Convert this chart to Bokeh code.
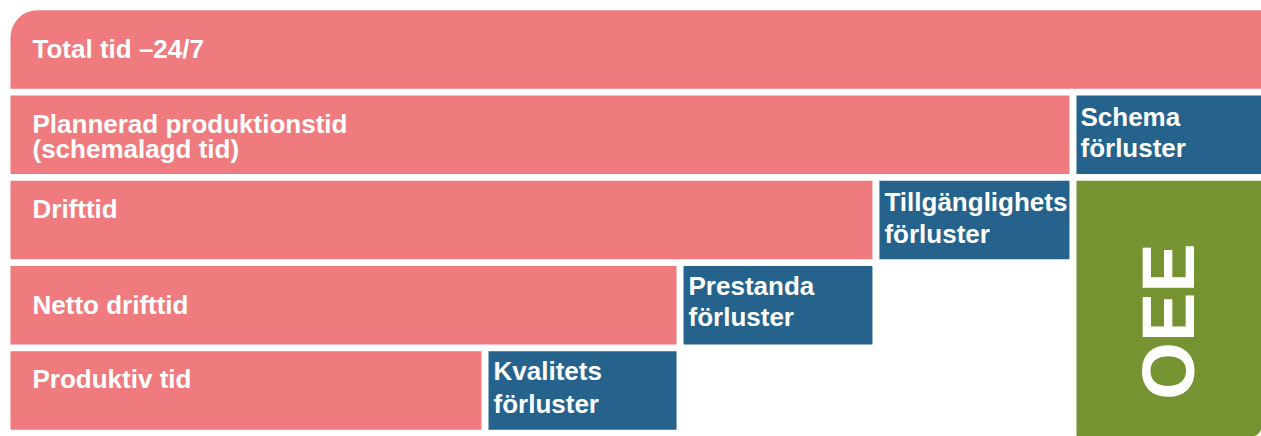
import math
from bokeh.plotting import figure
from bokeh.models import Range1d, ColumnDataSource
from bokeh.core.properties import value
from bokeh.embed import file_html
from bokeh.resources import INLINE

# ---- data (share of total time, %) ----
row_labels = [["Total tid –24/7"],
              ["Plannerad produktionstid", "(schemalagd tid)"],
              ["Drifttid"],
              ["Netto drifttid"],
              ["Produktiv tid"]]
row_values = [100.0, 84.65, 68.9, 53.24, 37.65]
loss_labels = [["Schema", "förluster"],
               ["Tillgänglighets", "förluster"],
               ["Prestanda", "förluster"],
               ["Kvalitets", "förluster"]]
oee_label = "OEE"

PINK = "#EF7B7E"
BLUE = "#25638C"
GREEN = "#769331"
FONT = "Liberation Sans"

W, H = 1261, 436
PX_X = 12.51      # px per % unit
PX_Y = 85.25      # px per row
GAP = 7 / PX_X
BAR_H = 0.92
Y_TOP = -49 / PX_Y
Y_BOT = Y_TOP + H / PX_Y
TXT_SHIFT = -8    # px

p = figure(width=W, height=H, output_backend="svg", toolbar_location=None,
           x_range=Range1d(-10 / PX_X, (W - 10) / PX_X),
           y_range=Range1d(Y_BOT, Y_TOP),
           min_border=0, outline_line_color=None)
p.axis.visible = False
p.grid.visible = False
p.background_fill_color = "white"

n = len(row_values)
ys = list(range(n))

# pink time bars
p.hbar(y=ys[1:], left=0, right=row_values[1:], height=BAR_H,
       fill_color=PINK, line_color=None)
p.hbar(y=[0], left=0, right=[row_values[0]], height=BAR_H,
       fill_color=PINK, line_color=None, border_radius=(27, 0, 0, 0))

# blue loss bars
loss_left = [row_values[i] + GAP for i in range(1, n)]
loss_right = [row_values[i - 1] for i in range(1, n)]
p.hbar(y=ys[1:], left=loss_left, right=loss_right, height=BAR_H,
       fill_color=BLUE, line_color=None)

# green OEE bar
top_oee = 2 - BAR_H / 2
p.quad(left=[row_values[1] + GAP], right=[row_values[0]],
       top=[top_oee], bottom=[Y_BOT], fill_color=GREEN, line_color=None,
       border_radius=(0, 0, 10, 0))

def row_top(i):
    return i - BAR_H / 2

# row label texts (baseline offsets in px from row top)
row_base = [[47], [36.5, 61], [36], [47], [36]]
tx, ty, tt = [], [], []
for i, lines in enumerate(row_labels):
    for line, off in zip(lines, row_base[i]):
        tx.append(22 / PX_X)
        ty.append(row_top(i) + (off + TXT_SHIFT) / PX_Y)
        tt.append(line)
loss_base = [[29, 60], [29, 61], [28, 59], [28, 61]]
loss_dx = [4, 5, 5, 5]
for k, lines in enumerate(loss_labels):
    for line, off in zip(lines, loss_base[k]):
        tx.append(loss_left[k] + loss_dx[k] / PX_X)
        ty.append(row_top(k + 1) + (off + TXT_SHIFT) / PX_Y)
        tt.append(line)

src = ColumnDataSource(dict(x=tx, y=ty, t=tt))
p.text(x="x", y="y", text="t", source=src, text_color="white",
       text_font=value(FONT), text_font_style="bold", text_font_size="26px",
       text_align="left", text_baseline="alphabetic")

# OEE vertical label
oee_x = (row_values[1] + GAP + row_values[0]) / 2
oee_y = (321 - 49) / PX_Y
p.text(x=[oee_x], y=[oee_y], text=[oee_label], angle=math.pi / 2,
       text_color="white", text_font=value(FONT), text_font_style="bold",
       text_font_size="74px", text_align="center", text_baseline="middle")

open("out.html", "w").write(file_html(p, INLINE))
